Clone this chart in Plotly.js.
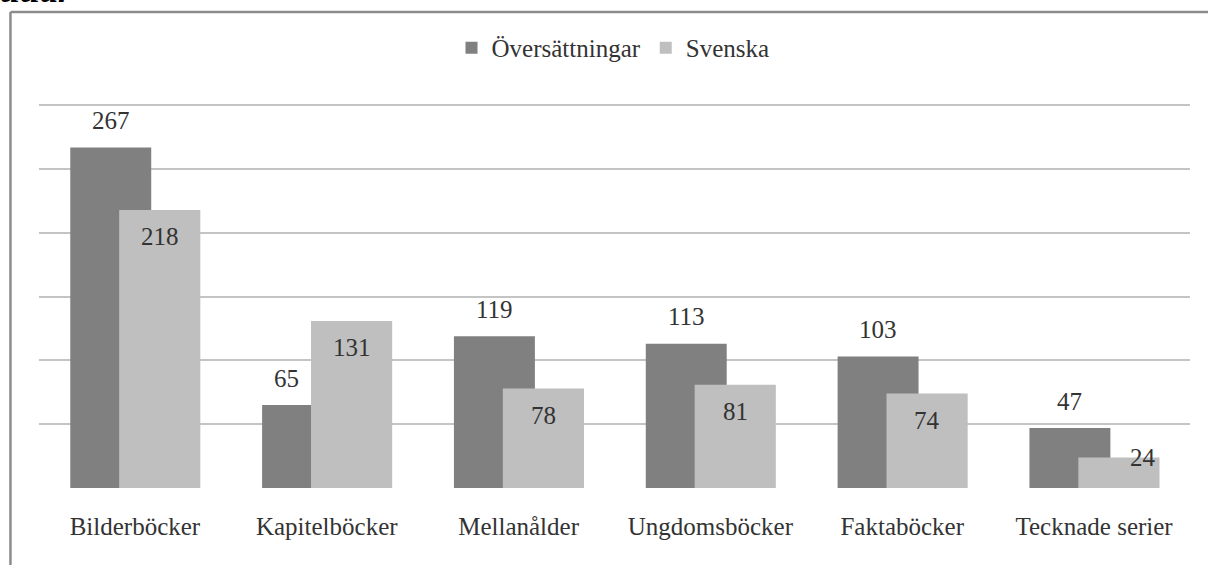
<!DOCTYPE html>
<html>
<head>
<meta charset="utf-8">
<script src="https://cdn.plot.ly/plotly-3.0.1.min.js"></script>
<style>
  html, body { margin: 0; padding: 0; background: #ffffff; }
  #chart { width: 1208px; height: 565px; }
</style>
</head>
<body>
<div id="chart"></div>
<script>
const categories = ["Bilderböcker", "Kapitelböcker", "Mellanålder", "Ungdomsböcker", "Faktaböcker", "Tecknade serier"];
const seriesNames = ["Översättningar", "Svenska"];
const oversattningar = [267, 65, 119, 113, 103, 47];
const svenska = [218, 131, 78, 81, 74, 24];
const yTicks = [0, 50, 100, 150, 200, 250, 300];

const darkColor = "#808080";
const lightColor = "#bfbfbf";
const textColor = "#333333";
const fontFamily = "Liberation Serif, Times New Roman, serif";

const darkOffset = -0.337, darkWidth = 0.422;
const lightOffset = -0.082, lightWidth = 0.423;

const xIdx = categories.map((c, i) => i);

const traces = [
  {
    type: "bar", name: seriesNames[0], x: xIdx, y: oversattningar,
    offset: darkOffset, width: darkWidth,
    marker: { color: darkColor, line: { width: 0 } },
    hoverinfo: "none"
  },
  {
    type: "bar", name: seriesNames[1], x: xIdx, y: svenska,
    offset: lightOffset, width: lightWidth,
    marker: { color: lightColor, line: { width: 0 } },
    hoverinfo: "none"
  }
];

const plotH = 384, yMax = 301;
const pxPerUnit = plotH / yMax;

const annotations = [];
oversattningar.forEach((v, i) => {
  const lv = svenska[i];
  let xc = i + darkOffset + darkWidth / 2;
  if (lv > v) xc = i + (darkOffset + lightOffset) / 2; // centre on visible part
  annotations.push({
    x: xc, y: v, xref: "x", yref: "y", text: String(v), showarrow: false,
    yshift: 27, font: { family: fontFamily, size: 25, color: textColor }
  });
});
svenska.forEach((v, i) => {
  let xc = i + lightOffset + lightWidth / 2;
  let ys = -27;
  if (v * pxPerUnit < 50) { ys = 0; xc = i + lightOffset + lightWidth - 0.086; }
  annotations.push({
    x: xc, y: v, xref: "x", yref: "y", text: String(v), showarrow: false,
    yshift: ys, font: { family: fontFamily, size: 25, color: textColor }
  });
});
// heading, cut off at the very top as in the reference
annotations.push({
  x: -0.0356, y: 1.297, xref: "paper", yref: "paper", xanchor: "left", yanchor: "middle",
  text: "<b><i>titlar</i></b>", showarrow: false,
  font: { family: fontFamily, size: 36, color: "#000000" }
});

const layout = {
  width: 1208, height: 565,
  margin: { l: 39, r: 18, t: 104, b: 77 },
  paper_bgcolor: "#ffffff", plot_bgcolor: "#ffffff",
  barmode: "overlay",
  showlegend: true,
  legend: {
    orientation: "h", x: 0.4987, xanchor: "center", y: 1.146, yanchor: "middle",
    font: { family: fontFamily, size: 25, color: textColor },
    itemclick: false, itemdoubleclick: false, tracegroupgap: 0
  },
  xaxis: {
    type: "linear", range: [-0.5, categories.length - 0.5],
    tickmode: "array", tickvals: xIdx, ticktext: categories,
    showgrid: false, zeroline: false, showline: false, ticks: "",
    ticklabelstandoff: 21,
    tickfont: { family: fontFamily, size: 25, color: textColor },
    fixedrange: true
  },
  yaxis: {
    range: [0, yMax], tickmode: "array", tickvals: yTicks,
    showticklabels: false, showgrid: true, gridcolor: "#c4c4c4", gridwidth: 2,
    zeroline: false, showline: false, ticks: "", fixedrange: true
  },
  annotations: annotations,
  shapes: [
    { type: "line", xref: "paper", yref: "paper", x0: -0.0248, x1: -0.0248, y0: -0.3, y1: 1.2396,
      line: { color: "#8c8c8c", width: 2.5 } },
    { type: "line", xref: "paper", yref: "paper", x0: -0.0248, x1: 1.05, y0: 1.2396, y1: 1.2396,
      line: { color: "#8c8c8c", width: 2.5 } }
  ]
};

Plotly.newPlot("chart", traces, layout, { displayModeBar: false, staticPlot: true });
</script>
</body>
</html>
